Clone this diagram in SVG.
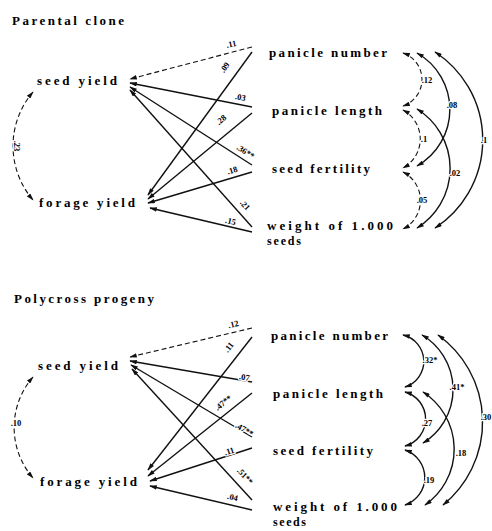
<svg xmlns="http://www.w3.org/2000/svg" width="492" height="531" viewBox="0 0 492 531">
<defs>
<style>
.t{font-family:"Liberation Serif","DejaVu Serif",serif;font-weight:bold;font-size:13px;fill:#000}
.s{font-size:12px}
.l{font-family:"Liberation Serif","DejaVu Serif",serif;font-weight:bold;font-size:8.5px;fill:#000;text-anchor:middle;stroke:#fff;stroke-width:2.5px;paint-order:stroke}
.c{fill:none;stroke:#111;stroke-width:1.4}
.d{stroke-dasharray:5,3;stroke-width:1.1}
.a{marker-end:url(#ah)}
.b{marker-start:url(#ah);marker-end:url(#ah)}
</style>
<marker id="ah" viewBox="0 0 10 6" refX="9" refY="3" markerWidth="8" markerHeight="4.5" markerUnits="userSpaceOnUse" orient="auto-start-reverse">
<path d="M0,0 L10,3 L0,6 z" fill="#111"/>
</marker>
</defs>
<rect width="492" height="531" fill="#fff"/>

<text class="t" x="12" y="25" textLength="112">Parental clone</text>
<text class="t" x="14" y="303" textLength="140">Polycross progeny</text>

<g id="top-seed-yield"><text class="t" x="37" y="85" textLength="80">seed yield</text></g>
<g id="top-forage-yield"><text class="t" x="39" y="207" textLength="96">forage yield</text></g>
<g id="top-panicle-number"><text class="t" x="269" y="57" textLength="118">panicle number</text></g>
<g id="top-panicle-length"><text class="t" x="272" y="115" textLength="110">panicle length</text></g>
<g id="top-seed-fertility"><text class="t" x="272" y="173" textLength="98">seed fertility</text></g>
<g id="top-weight"><text class="t" x="267" y="230" textLength="126">weight of 1.000</text><text class="t s" x="267" y="245" textLength="34">seeds</text></g>

<g id="bot-seed-yield"><text class="t" x="38" y="370" textLength="80">seed yield</text></g>
<g id="bot-forage-yield"><text class="t" x="40" y="486" textLength="97">forage yield</text></g>
<g id="bot-panicle-number"><text class="t" x="271" y="340" textLength="117">panicle number</text></g>
<g id="bot-panicle-length"><text class="t" x="273" y="398" textLength="110">panicle length</text></g>
<g id="bot-seed-fertility"><text class="t" x="273" y="455" textLength="100">seed fertility</text></g>
<g id="bot-weight"><text class="t" x="273" y="511" textLength="124">weight of 1.000</text><text class="t s" x="273" y="526" textLength="33">seeds</text></g>

<g id="connectors">
<path class="c a d" d="M252,47 L130,79"/>
<path class="c a" d="M252,107 L130,83"/>
<path class="c a" d="M252,165 L130,87"/>
<path class="c a" d="M252,227 L130,90"/>
<path class="c a" d="M252,52 L148,195"/>
<path class="c a" d="M252,113 L148,199"/>
<path class="c a" d="M252,172 L148,203"/>
<path class="c a" d="M252,232 L150,208"/>
<path class="c b d" d="M403,53 A28,28 0 0 1 403,106"/>
<path class="c b d" d="M403,110 A33,33 0 0 1 403,168"/>
<path class="c b d" d="M403,172 A32,32 0 0 1 403,229"/>
<path class="c b" d="M417,53 A65,65 0 0 1 417,166"/>
<path class="c b" d="M417,109 A70,70 0 0 1 417,228"/>
<path class="c b" d="M435,52 A105,105 0 0 1 435,228"/>
<path class="c b d" d="M33,92 A83,83 0 0 0 33,200"/>

<path class="c a d" d="M252,328 L130,357"/>
<path class="c a" d="M252,382 L130,361"/>
<path class="c a" d="M252,437 L131,365"/>
<path class="c a" d="M252,500 L132,369"/>
<path class="c a" d="M252,337 L148,470"/>
<path class="c a" d="M252,393 L148,476"/>
<path class="c a" d="M252,448 L150,481"/>
<path class="c a" d="M252,510 L150,486"/>
<path class="c b" d="M403,335 A27,27 0 0 1 405,387"/>
<path class="c b" d="M405,392 A28,28 0 0 1 405,446"/>
<path class="c b" d="M405,450 A29,29 0 0 1 405,505"/>
<path class="c b" d="M422,335 A63,63 0 0 1 423,443"/>
<path class="c b" d="M423,392 A68,68 0 0 1 425,505"/>
<path class="c b" d="M438,335 A107,107 0 0 1 443,505"/>
<path class="c b d" d="M33,377 A77,77 0 0 0 33,478"/>
</g>

<g id="labels">
<text class="l" transform="translate(232,47) rotate(-12)">.11</text>
<text class="l" transform="translate(227,69) rotate(-54)">.09</text>
<text class="l" transform="translate(240,100) rotate(11)">.03</text>
<text class="l" transform="translate(223,122) rotate(-40)">.28</text>
<text class="l" transform="translate(244,154) rotate(33)">.36**</text>
<text class="l" transform="translate(233,173) rotate(-17)">.18</text>
<text class="l" transform="translate(243,207) rotate(48)">.21</text>
<text class="l" transform="translate(230,224) rotate(13)">.15</text>
<text class="l" x="427" y="83">.12</text>
<text class="l" x="452" y="108">.08</text>
<text class="l" x="424" y="142">.1</text>
<text class="l" x="455" y="176">.02</text>
<text class="l" x="422" y="203">.05</text>
<text class="l" x="484" y="143">.1</text>
<text class="l" transform="translate(14,146) rotate(90)">.23</text>

<text class="l" transform="translate(234,327) rotate(-13)">.12</text>
<text class="l" transform="translate(231,349) rotate(-52)">.11</text>
<text class="l" transform="translate(244,380) rotate(10)">.07</text>
<text class="l" transform="translate(225,405) rotate(-39)">.47**</text>
<text class="l" transform="translate(243,432) rotate(31)">.47**</text>
<text class="l" transform="translate(230,454) rotate(-17)">.11</text>
<text class="l" transform="translate(243,478) rotate(47)">.51**</text>
<text class="l" transform="translate(232,500) rotate(13)">.04</text>
<text class="l" x="430" y="363">.32*</text>
<text class="l" x="457" y="390">.41*</text>
<text class="l" x="427" y="426">.27</text>
<text class="l" x="461" y="456">.18</text>
<text class="l" x="429" y="483">.19</text>
<text class="l" x="486" y="420">.30</text>
<text class="l" x="16" y="426">.10</text>
</g>
</svg>
